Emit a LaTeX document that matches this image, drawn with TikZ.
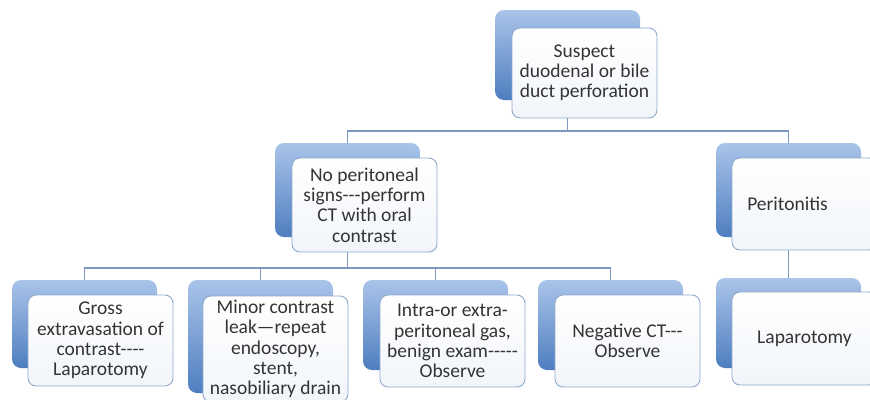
\documentclass[tikz,border=0pt]{standalone}
\usepackage{fontspec}
\newfontfamily\diagfont{Carlito}[Ligatures=TeXOff]
\usepackage{tikz}
\usetikzlibrary{positioning, backgrounds}

\definecolor{bluetop}{RGB}{170,196,233}
\definecolor{bluebot}{RGB}{78,126,192}
\definecolor{frameblue}{RGB}{143,168,204}
\definecolor{linkblue}{RGB}{125,152,192}
\definecolor{inkgray}{RGB}{52,52,52}
\definecolor{paleblue}{RGB}{241,245,250}

\begin{document}
\begin{tikzpicture}[
    x=1pt, y=-1pt,
    backbox/.style={rectangle, rounded corners=9pt, minimum width=145pt, minimum height=90pt,
        top color=bluetop, bottom color=bluebot, draw=none},
    frontbox/.style={rectangle, rounded corners=8pt, minimum width=145pt, minimum height=91pt,
        draw=frameblue, line width=0.9pt, top color=white, bottom color=paleblue,
        align=center, inner sep=1pt, text=inkgray,
        font=\diagfont\fontsize{19.5}{20.2}\selectfont},
    link/.style={draw=linkblue, line width=1.1pt}
]
\useasboundingbox (0,0) rectangle (870,399);

% Back boxes
\node[backbox] (topb) at (567.5,55) {};
\node[backbox, minimum height=94pt] (midb) at (347.5,190) {};
\node[backbox, minimum height=94pt] (perib) at (788.5,190) {};
\node[backbox, minimum height=88pt] (b1b) at (84.5,324) {};
\node[backbox, minimum height=113pt] (b2b) at (260.5,336.5) {};
\node[backbox] (b3b) at (435.5,325) {};
\node[backbox] (b4b) at (610.5,325) {};
\node[backbox] (lapb) at (788.5,323) {};

% Front boxes
\node[frontbox, minimum height=90pt] (top) at (584.5,73) {Suspect\\duodenal or bile\\duct perforation};
\node[frontbox, minimum height=94pt] (mid) at (364.5,205) {No peritoneal\\signs---perform\\CT with oral\\contrast};
\node[frontbox, minimum height=92pt] (peri) at (804.5,204) {Peritonitis\hspace*{34pt}};
\node[frontbox] (b1) at (100.5,340.5) {Gross\\extravasation of\\contrast----\\Laparotomy};
\node[frontbox, minimum height=106pt] (b2) at (275.5,349) {Minor contrast\\leak—repeat\\endoscopy,\\stent,\\nasobiliary drain};
\node[frontbox, minimum height=92pt] (b3) at (452.5,341) {Intra-or extra-\\peritoneal gas,\\benign exam-----\\Observe};
\node[frontbox, minimum height=92pt] (b4) at (627.5,341) {Negative CT---\\Observe};
\node[frontbox, minimum height=93pt] (lap) at (804.5,338.5) {Laparotomy};

% Connectors
\coordinate (j1) at (567.5,131);
\coordinate (j2) at (347.5,268);
\begin{scope}[on background layer]
\draw[link] (topb.south) -- (j1);
\draw[link] (j1) -| (midb.north);
\draw[link] (j1) -| (perib.north);
\draw[link] (midb.south) -- (j2);
\draw[link] (j2) -| (b1b.north);
\draw[link] (j2) -| (b2b.north);
\draw[link] (j2) -| (b3b.north);
\draw[link] (j2) -| (b4b.north);
\draw[link] (perib.south) -- (lapb.north);
\end{scope}

\end{tikzpicture}
\end{document}
